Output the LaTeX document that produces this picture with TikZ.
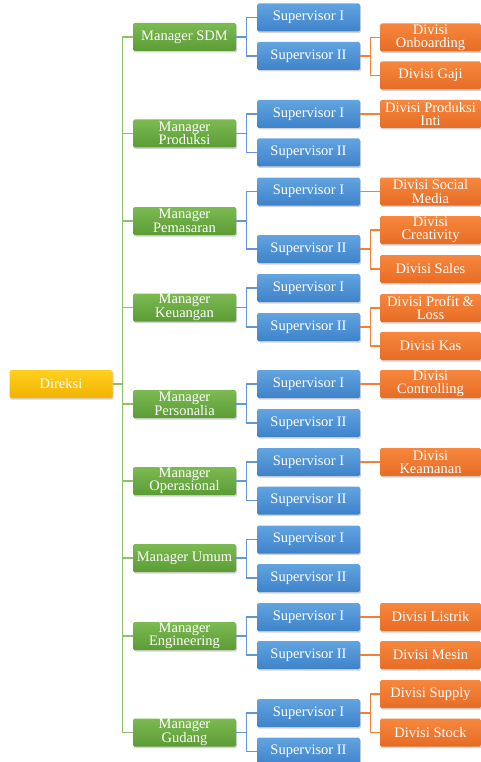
\documentclass[tikz,border=0pt]{standalone}
\usepackage{fontspec}
\setmainfont{Liberation Serif}
\usepackage{tikz}
\usetikzlibrary{shapes,shadows,positioning}

\definecolor{yelTop}{RGB}{255,208,30}
\definecolor{yelBot}{RGB}{243,178,0}
\definecolor{grnTop}{RGB}{124,186,82}
\definecolor{grnBot}{RGB}{92,156,52}
\definecolor{bluTop}{RGB}{98,164,224}
\definecolor{bluBot}{RGB}{62,130,202}
\definecolor{orgTop}{RGB}{247,135,62}
\definecolor{orgBot}{RGB}{231,108,36}
\definecolor{grnLine}{RGB}{140,192,108}
\definecolor{bluLine}{RGB}{100,150,212}
\definecolor{orgLine}{RGB}{240,128,58}

\begin{document}
\begin{tikzpicture}[x=1pt, y=-1pt]
    % Define styles
    \tikzstyle{box} = [rectangle, rounded corners=1.5pt, minimum width=103pt, minimum height=28pt, inner sep=0.5pt, text centered, align=center, text=white, font=\fontsize{14.5}{13.4}\selectfont, drop shadow={shadow xshift=1pt, shadow yshift=-1.5pt, opacity=0.35}]
    \tikzstyle{direksi} = [box, top color=yelTop, bottom color=yelBot]
    \tikzstyle{manager} = [box, top color=grnTop, bottom color=grnBot]
    \tikzstyle{supervisor} = [box, top color=bluTop, bottom color=bluBot]
    \tikzstyle{divisi} = [box, minimum width=101pt, top color=orgTop, bottom color=orgBot]
    \tikzstyle{gline} = [draw=grnLine, line width=1.4pt]
    \tikzstyle{bline} = [draw=bluLine, line width=1.2pt]
    \tikzstyle{oline} = [draw=orgLine, line width=1.2pt]

    \useasboundingbox (0,0) rectangle (481,762);

    % Nodes
    \node[direksi] (direksi) at (61,384) {Direksi};

    \node[manager] (msdm) at (184.5,37) {Manager SDM};
    \node[manager] (mprod) at (184.5,133.5) {Manager\\Produksi};
    \node[manager] (mpem) at (184.5,221) {Manager\\Pemasaran};
    \node[manager] (mkeu) at (184.5,307.5) {Manager\\Keuangan};
    \node[manager] (mpers) at (184.5,404) {Manager\\Personalia};
    \node[manager] (mops) at (184.5,481) {Manager\\Operasional};
    \node[manager] (mumum) at (184.5,558) {Manager Umum};
    \node[manager] (meng) at (184.5,636) {Manager\\Engineering};
    \node[manager] (mgud) at (184.5,732.5) {Manager\\Gudang};

    \node[supervisor] (sdm1) at (308.5,17.5) {Supervisor I};
    \node[supervisor] (sdm2) at (308.5,56) {Supervisor II};
    \node[supervisor] (prod1) at (308.5,114) {Supervisor I};
    \node[supervisor] (prod2) at (308.5,152.5) {Supervisor II};
    \node[supervisor] (pem1) at (308.5,191.5) {Supervisor I};
    \node[supervisor] (pem2) at (308.5,249) {Supervisor II};
    \node[supervisor] (keu1) at (308.5,288) {Supervisor I};
    \node[supervisor] (keu2) at (308.5,327) {Supervisor II};
    \node[supervisor] (pers1) at (308.5,384) {Supervisor I};
    \node[supervisor] (pers2) at (308.5,423) {Supervisor II};
    \node[supervisor] (ops1) at (308.5,462) {Supervisor I};
    \node[supervisor] (ops2) at (308.5,500.5) {Supervisor II};
    \node[supervisor] (umum1) at (308.5,539.5) {Supervisor I};
    \node[supervisor] (umum2) at (308.5,578) {Supervisor II};
    \node[supervisor] (eng1) at (308.5,617) {Supervisor I};
    \node[supervisor] (eng2) at (308.5,655) {Supervisor II};
    \node[supervisor] (gud1) at (308.5,713) {Supervisor I};
    \node[supervisor] (gud2) at (308.5,751.5) {Supervisor II};

    \node[divisi] (onboarding) at (430.5,37.5) {Divisi\\Onboarding};
    \node[divisi] (gaji) at (430.5,75.5) {Divisi Gaji};
    \node[divisi] (inti) at (430.5,114) {Divisi Produksi\\Inti};
    \node[divisi] (social) at (430.5,191.5) {Divisi Social\\Media};
    \node[divisi] (creativity) at (430.5,230) {Divisi\\Creativity};
    \node[divisi] (sales) at (430.5,269) {Divisi Sales};
    \node[divisi] (profit) at (430.5,308) {Divisi Profit \&\\Loss};
    \node[divisi] (kas) at (430.5,346) {Divisi Kas};
    \node[divisi] (controlling) at (430.5,384) {Divisi\\Controlling};
    \node[divisi] (keamanan) at (430.5,462) {Divisi\\Keamanan};
    \node[divisi] (listrik) at (430.5,617) {Divisi Listrik};
    \node[divisi] (mesin) at (430.5,655) {Divisi Mesin};
    \node[divisi] (supply) at (430.5,694) {Divisi Supply};
    \node[divisi] (stock) at (430.5,732.5) {Divisi Stock};

    % Connections
    \draw[gline] (direksi.east) -- ++(10,0) |- (msdm.west);
    \draw[gline] (direksi.east) -- ++(10,0) |- (mprod.west);
    \draw[gline] (direksi.east) -- ++(10,0) |- (mpem.west);
    \draw[gline] (direksi.east) -- ++(10,0) |- (mkeu.west);
    \draw[gline] (direksi.east) -- ++(10,0) |- (mpers.west);
    \draw[gline] (direksi.east) -- ++(10,0) |- (mops.west);
    \draw[gline] (direksi.east) -- ++(10,0) |- (mumum.west);
    \draw[gline] (direksi.east) -- ++(10,0) |- (meng.west);
    \draw[gline] (direksi.east) -- ++(10,0) |- (mgud.west);

    \draw[bline] (msdm.east) -- ++(10,0) |- (sdm1.west);
    \draw[bline] (msdm.east) -- ++(10,0) |- (sdm2.west);
    \draw[bline] (mprod.east) -- ++(10,0) |- (prod1.west);
    \draw[bline] (mprod.east) -- ++(10,0) |- (prod2.west);
    \draw[bline] (mpem.east) -- ++(10,0) |- (pem1.west);
    \draw[bline] (mpem.east) -- ++(10,0) |- (pem2.west);
    \draw[bline] (mkeu.east) -- ++(10,0) |- (keu1.west);
    \draw[bline] (mkeu.east) -- ++(10,0) |- (keu2.west);
    \draw[bline] (mpers.east) -- ++(10,0) |- (pers1.west);
    \draw[bline] (mpers.east) -- ++(10,0) |- (pers2.west);
    \draw[bline] (mops.east) -- ++(10,0) |- (ops1.west);
    \draw[bline] (mops.east) -- ++(10,0) |- (ops2.west);
    \draw[bline] (mumum.east) -- ++(10,0) |- (umum1.west);
    \draw[bline] (mumum.east) -- ++(10,0) |- (umum2.west);
    \draw[bline] (meng.east) -- ++(10,0) |- (eng1.west);
    \draw[bline] (meng.east) -- ++(10,0) |- (eng2.west);
    \draw[bline] (mgud.east) -- ++(10,0) |- (gud1.west);
    \draw[bline] (mgud.east) -- ++(10,0) |- (gud2.west);

    \draw[oline] (sdm2.east) -- ++(10,0) |- (onboarding.west);
    \draw[oline] (sdm2.east) -- ++(10,0) |- (gaji.west);
    \draw[oline] (prod1) -- (inti);
    \draw[oline] (pem1) -- (social);
    \draw[oline] (pem2.east) -- ++(10,0) |- (creativity.west);
    \draw[oline] (pem2.east) -- ++(10,0) |- (sales.west);
    \draw[oline] (keu2.east) -- ++(10,0) |- (profit.west);
    \draw[oline] (keu2.east) -- ++(10,0) |- (kas.west);
    \draw[oline] (pers1) -- (controlling);
    \draw[oline] (ops1) -- (keamanan);
    \draw[oline] (eng1) -- (listrik);
    \draw[oline] (eng2) -- (mesin);
    \draw[oline] (gud1.east) -- ++(10,0) |- (supply.west);
    \draw[oline] (gud1.east) -- ++(10,0) |- (stock.west);
\end{tikzpicture}
\end{document}
